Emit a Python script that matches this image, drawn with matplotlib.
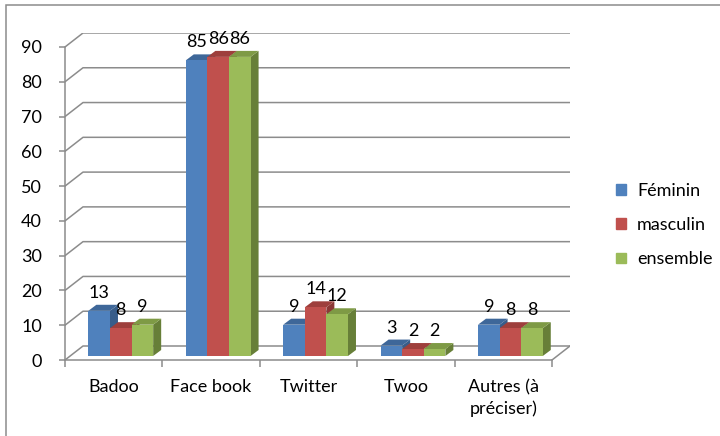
import matplotlib
matplotlib.use('Agg')
import matplotlib.pyplot as plt
from matplotlib.patches import Polygon, Rectangle, Patch

plt.rcParams['font.family'] = ['Lato', 'DejaVu Sans']

categories = ['Badoo', 'Face book', 'Twitter', 'Twoo', 'Autres (à\npréciser)']
series = ['Féminin', 'masculin', 'ensemble']
feminin = [13, 85, 9, 3, 9]
masculin = [8, 86, 14, 2, 8]
ensemble = [9, 86, 12, 2, 8]

front = ['#4F81BD', '#C0504D', '#9BBB59']
top = ['#3E6799', '#9E3F3C', '#7E9A45']
side = ['#385D8A', '#8C3836', '#677F38']
grid_c = '#8c8c8c'
fs = 13

W, H = 720, 436
fig = plt.figure(figsize=(W / 100, H / 100), dpi=100)

# pixel layout of the plot
px_x0, px_y0 = 65, 360          # front-left floor corner
ux = 97.4                       # px per category
uy = 3.478                      # px per value unit
ddx, ddy = 18 / ux, 14 / uy     # wall depth in data units
xmax = 5 + ddx
ymax = 90 + ddy
ax = fig.add_axes([px_x0 / W, (H - px_y0) / H, xmax * ux / W, ymax * uy / H])
ax.set_xlim(0, xmax)
ax.set_ylim(0, ymax)
ax.patch.set_visible(False)

# back wall grid + floor
for v in range(0, 100, 10):
    ax.plot([0, ddx, 5 + ddx], [v, v + ddy, v + ddy], color=grid_c, lw=1.1, zorder=1)
ax.plot([5, 5 + ddx], [0, ddy], color=grid_c, lw=1.1, zorder=1)

for s in ['top', 'right']:
    ax.spines[s].set_visible(False)
ax.spines['left'].set_bounds(0, 90)
ax.spines['bottom'].set_bounds(0, 5)
for s in ['left', 'bottom']:
    ax.spines[s].set_color(grid_c)
    ax.spines[s].set_linewidth(1.1)

ax.set_yticks(range(0, 100, 10))
ax.tick_params(axis='y', length=4.5, width=1.1, color=grid_c, pad=12, labelsize=fs)
ax.set_xticks([i + 0.5 for i in range(5)])
ax.set_xticklabels(categories, fontsize=fs, linespacing=1.35, va='top')
ax.tick_params(axis='x', length=0, pad=14)
ax.set_xticks(range(6), minor=True)
ax.tick_params(axis='x', which='minor', length=5, width=1.1, color=grid_c)

# 3d-ish bars
bw = 21.6 / ux
off = 0.24
bdx, bdy = 8 / ux, 6 / uy
base = 4 / uy
data = [feminin, masculin, ensemble]
for i in range(5):
    for j in range(3):
        v = data[j][i]
        x0 = i + off + j * bw
        y1 = base + v
        ax.add_patch(Polygon([(x0 + bw, base), (x0 + bw + bdx, base + bdy),
                              (x0 + bw + bdx, y1 + bdy), (x0 + bw, y1)],
                             closed=True, fc=side[j], ec='none', zorder=3))
        ax.add_patch(Polygon([(x0, y1), (x0 + bw, y1), (x0 + bw + bdx, y1 + bdy),
                              (x0 + bdx, y1 + bdy)],
                             closed=True, fc=top[j], ec='none', zorder=3))
        ax.bar(x0, v, bottom=base, width=bw, align='edge', color=front[j], zorder=3)
        ax.annotate(str(v), (x0 + bw / 2, y1), xytext=(0, 13), textcoords='offset points',
                    ha='center', va='center', fontsize=fs, zorder=5)

handles = [Patch(color=front[j]) for j in range(3)]
fig.legend(handles, series, loc='upper left', bbox_to_anchor=(600 / W, 1 - 167 / H),
           frameon=False, fontsize=fs, handlelength=0.55, handleheight=0.55,
           handletextpad=0.6, labelspacing=1.0)

fig.add_artist(Rectangle((6 / W, -0.1), 1.0, 1 - 5 / H + 0.1, transform=fig.transFigure,
                         fill=False, ec=grid_c, lw=1.1))

fig.savefig('out.png', dpi=100)
